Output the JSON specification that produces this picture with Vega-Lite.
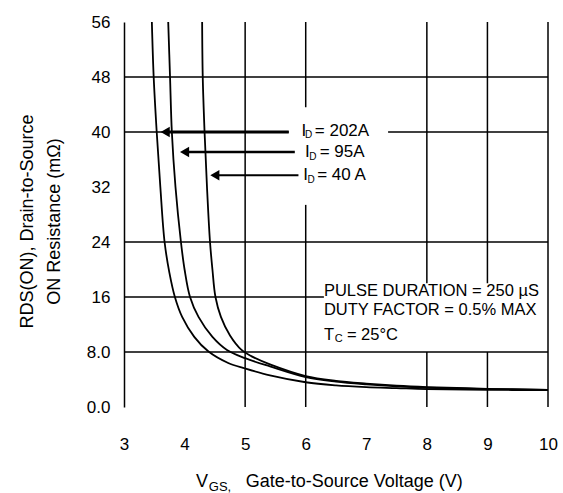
{
  "$schema": "https://vega.github.io/schema/vega-lite/v6.json",
  "width": 424,
  "height": 385,
  "autosize": {"type": "none"},
  "padding": {"left": 124, "top": 22, "right": 15, "bottom": 86},
  "view": {"stroke": null},
  "config": {"font": "Liberation Sans"},
  "datasets": {
    "grid": [
      {"x": 5, "x2": 5, "y": 0, "y2": 56},
      {"x": 6, "x2": 6, "y": 0, "y2": 29.4},
      {"x": 6, "x2": 6, "y": 43.6, "y2": 56},
      {"x": 8, "x2": 8, "y": 0, "y2": 8},
      {"x": 8, "x2": 8, "y": 18, "y2": 56},
      {"x": 9, "x2": 9, "y": 0, "y2": 8},
      {"x": 9, "x2": 9, "y": 18, "y2": 56},
      {"x": 10, "x2": 10, "y": 0, "y2": 56},
      {"x": 3, "x2": 10, "y": 48, "y2": 48},
      {"x": 3, "x2": 5.72, "y": 40, "y2": 40},
      {"x": 7.36, "x2": 10, "y": 40, "y2": 40},
      {"x": 3, "x2": 10, "y": 24, "y2": 24},
      {"x": 3, "x2": 6.3, "y": 16, "y2": 16},
      {"x": 3, "x2": 10, "y": 8, "y2": 8}
    ],
    "curves": [
      {"id": "a", "x": 3.46, "y": 56}, {"id": "a", "x": 3.49, "y": 48}, {"id": "a", "x": 3.54, "y": 40},
      {"id": "a", "x": 3.6, "y": 32}, {"id": "a", "x": 3.67, "y": 24}, {"id": "a", "x": 3.75, "y": 19.5},
      {"id": "a", "x": 3.84, "y": 16}, {"id": "a", "x": 3.96, "y": 13.1}, {"id": "a", "x": 4.16, "y": 10.2},
      {"id": "a", "x": 4.39, "y": 8.1}, {"id": "a", "x": 4.72, "y": 6.4}, {"id": "a", "x": 5.0, "y": 5.6},
      {"id": "a", "x": 5.41, "y": 4.6}, {"id": "a", "x": 6.0, "y": 3.6}, {"id": "a", "x": 6.5, "y": 3.15},
      {"id": "a", "x": 7.0, "y": 2.9}, {"id": "a", "x": 7.5, "y": 2.75}, {"id": "a", "x": 8.0, "y": 2.6},
      {"id": "a", "x": 9.0, "y": 2.5}, {"id": "a", "x": 10, "y": 2.45},
      {"id": "b", "x": 3.73, "y": 56}, {"id": "b", "x": 3.76, "y": 48}, {"id": "b", "x": 3.79, "y": 40},
      {"id": "b", "x": 3.85, "y": 32}, {"id": "b", "x": 3.94, "y": 24}, {"id": "b", "x": 4.0, "y": 20},
      {"id": "b", "x": 4.09, "y": 16}, {"id": "b", "x": 4.23, "y": 13.1}, {"id": "b", "x": 4.46, "y": 10.2},
      {"id": "b", "x": 4.7, "y": 8.3}, {"id": "b", "x": 5.0, "y": 7.1}, {"id": "b", "x": 5.41, "y": 5.9},
      {"id": "b", "x": 6.0, "y": 4.35}, {"id": "b", "x": 6.5, "y": 3.7}, {"id": "b", "x": 7.0, "y": 3.3},
      {"id": "b", "x": 7.5, "y": 3.0}, {"id": "b", "x": 8.0, "y": 2.8}, {"id": "b", "x": 9.0, "y": 2.6},
      {"id": "b", "x": 10, "y": 2.5},
      {"id": "c", "x": 4.29, "y": 56}, {"id": "c", "x": 4.30, "y": 48}, {"id": "c", "x": 4.33, "y": 40},
      {"id": "c", "x": 4.37, "y": 32}, {"id": "c", "x": 4.42, "y": 24}, {"id": "c", "x": 4.46, "y": 20},
      {"id": "c", "x": 4.51, "y": 16}, {"id": "c", "x": 4.6, "y": 13.1}, {"id": "c", "x": 4.75, "y": 10.4},
      {"id": "c", "x": 4.94, "y": 8.3}, {"id": "c", "x": 5.1, "y": 7.4}, {"id": "c", "x": 5.41, "y": 6.2},
      {"id": "c", "x": 6.0, "y": 4.5}, {"id": "c", "x": 6.5, "y": 3.8}, {"id": "c", "x": 7.0, "y": 3.4},
      {"id": "c", "x": 7.5, "y": 3.1}, {"id": "c", "x": 8.0, "y": 2.9}, {"id": "c", "x": 9.0, "y": 2.65},
      {"id": "c", "x": 10, "y": 2.5}
    ],
    "arrows": [
      {"id": "202A", "x": 3.68, "x2": 5.72, "y": 40},
      {"id": "95A", "x": 4.0, "x2": 5.82, "y": 37.1},
      {"id": "40A", "x": 4.5, "x2": 5.88, "y": 33.7}
    ],
    "idmain": [
      {"x": 5.93, "y": 40.1, "t": "I"},
      {"x": 6.15, "y": 40.1, "t": "= 202A"},
      {"x": 5.99, "y": 37.1, "t": "I"},
      {"x": 6.23, "y": 37.1, "t": "= 95A"},
      {"x": 5.96, "y": 33.7, "t": "I"},
      {"x": 6.19, "y": 33.7, "t": "= 40 A"}
    ],
    "idsub": [
      {"x": 5.99, "y": 39.5, "t": "D"},
      {"x": 6.06, "y": 36.4, "t": "D"},
      {"x": 6.03, "y": 33.0, "t": "D"}
    ],
    "notes": [
      {"x": 6.3, "y": 16.9, "t": "PULSE DURATION = 250 µS"},
      {"x": 6.3, "y": 14.1, "t": "DUTY FACTOR = 0.5% MAX"},
      {"x": 6.3, "y": 10.5, "t": "T"},
      {"x": 6.68, "y": 10.5, "t": "= 25°C"}
    ],
    "notesub": [
      {"x": 6.48, "y": 9.9, "t": "C"}
    ],
    "xtitle": [
      {"x": 4.19, "y": -10.9, "t": "V"},
      {"x": 5.01, "y": -10.9, "t": "Gate-to-Source Voltage (V)"}
    ],
    "xtitlesub": [
      {"x": 4.4, "y": -11.6, "t": "GS,"}
    ]
  },
  "layer": [
    {
      "data": {"name": "grid"},
      "mark": {"type": "rule", "color": "black", "strokeWidth": 1.5},
      "encoding": {
        "x": {
          "field": "x", "type": "quantitative",
          "scale": {"domain": [3, 10], "nice": false, "zero": false},
          "axis": {
            "title": null, "values": [3, 4, 5, 6, 7, 8, 9, 10], "format": "d",
            "domain": false, "ticks": false, "tickSize": 0, "grid": false,
            "labelFontSize": 17, "labelColor": "black", "labelPadding": 37,
            "labelBaseline": "middle", "labelFlush": false
          }
        },
        "x2": {"field": "x2"},
        "y": {
          "field": "y", "type": "quantitative",
          "scale": {"domain": [0, 56], "nice": false, "zero": false},
          "axis": {
            "title": ["RDS(ON), Drain-to-Source", "ON Resistance (mΩ)"],
            "titleFontSize": 18, "titleFontWeight": "normal", "titleColor": "black",
            "titleAngle": -90, "titleX": -97, "titleY": 199, "titleAlign": "center",
            "titleBaseline": "middle", "titleLineHeight": 27,
            "values": [0, 8, 16, 24, 32, 40, 48, 56],
            "labelExpr": "datum.value < 10 ? format(datum.value, '.1f') : format(datum.value, 'd')",
            "domain": true, "domainColor": "black", "domainWidth": 1.5,
            "ticks": false, "tickSize": 0, "grid": false,
            "labelFontSize": 17, "labelColor": "black", "labelPadding": 14,
            "labelBaseline": "middle", "labelFlush": false
          }
        },
        "y2": {"field": "y2"}
      }
    },
    {
      "data": {"name": "curves"},
      "mark": {"type": "line", "color": "black", "strokeWidth": 1.8, "interpolate": "catmull-rom", "clip": true},
      "encoding": {
        "x": {"field": "x", "type": "quantitative"},
        "y": {"field": "y", "type": "quantitative"},
        "detail": {"field": "id"}
      }
    },
    {
      "data": {"name": "arrows"},
      "mark": {"type": "rule", "color": "black"},
      "encoding": {
        "x": {"field": "x", "type": "quantitative"},
        "x2": {"field": "x2"},
        "y": {"field": "y", "type": "quantitative"},
        "strokeWidth": {
          "field": "id", "type": "nominal",
          "scale": {"domain": ["202A", "95A", "40A"], "range": [3, 2, 3.5]},
          "legend": null
        }
      }
    },
    {
      "data": {"name": "arrows"},
      "mark": {"type": "point", "shape": "triangle-left", "filled": true, "color": "black", "opacity": 1, "size": 110},
      "encoding": {
        "x": {"field": "x", "type": "quantitative"},
        "y": {"field": "y", "type": "quantitative"}
      }
    },
    {
      "data": {"name": "idmain"},
      "mark": {"type": "text", "align": "left", "baseline": "middle", "fontSize": 17, "color": "black"},
      "encoding": {
        "x": {"field": "x", "type": "quantitative"},
        "y": {"field": "y", "type": "quantitative"},
        "text": {"field": "t"}
      }
    },
    {
      "data": {"name": "idsub"},
      "mark": {"type": "text", "align": "left", "baseline": "middle", "fontSize": 10, "color": "black"},
      "encoding": {
        "x": {"field": "x", "type": "quantitative"},
        "y": {"field": "y", "type": "quantitative"},
        "text": {"field": "t"}
      }
    },
    {
      "data": {"name": "notes"},
      "mark": {"type": "text", "align": "left", "baseline": "middle", "fontSize": 16.5, "color": "black"},
      "encoding": {
        "x": {"field": "x", "type": "quantitative"},
        "y": {"field": "y", "type": "quantitative"},
        "text": {"field": "t"}
      }
    },
    {
      "data": {"name": "notesub"},
      "mark": {"type": "text", "align": "left", "baseline": "middle", "fontSize": 11, "color": "black"},
      "encoding": {
        "x": {"field": "x", "type": "quantitative"},
        "y": {"field": "y", "type": "quantitative"},
        "text": {"field": "t"}
      }
    },
    {
      "data": {"name": "xtitle"},
      "mark": {"type": "text", "align": "left", "baseline": "middle", "fontSize": 18, "color": "black"},
      "encoding": {
        "x": {"field": "x", "type": "quantitative"},
        "y": {"field": "y", "type": "quantitative"},
        "text": {"field": "t"}
      }
    },
    {
      "data": {"name": "xtitlesub"},
      "mark": {"type": "text", "align": "left", "baseline": "middle", "fontSize": 13, "color": "black"},
      "encoding": {
        "x": {"field": "x", "type": "quantitative"},
        "y": {"field": "y", "type": "quantitative"},
        "text": {"field": "t"}
      }
    }
  ]
}
